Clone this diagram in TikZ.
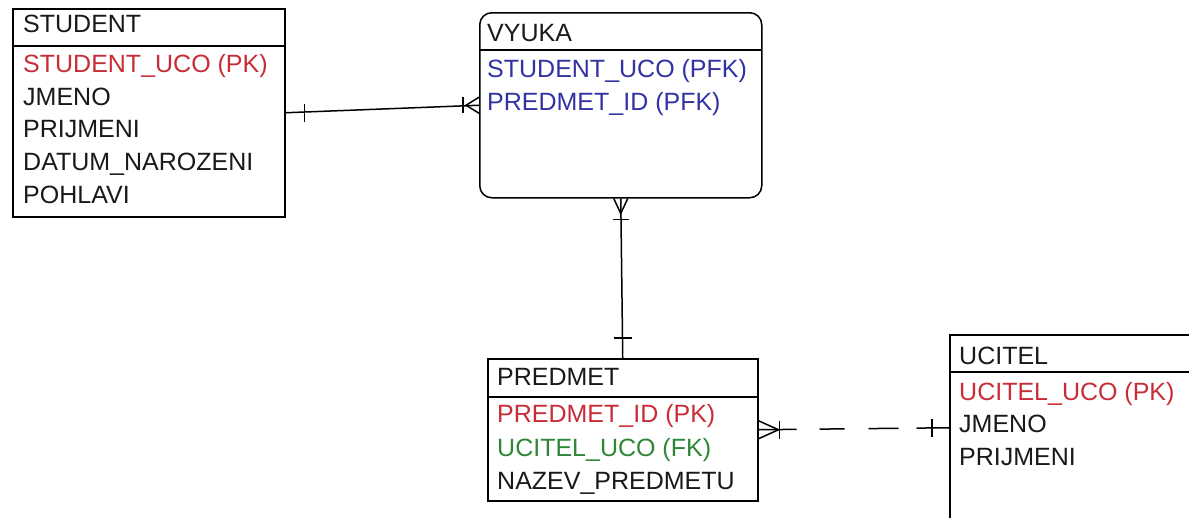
\documentclass[tikz,border=0pt]{standalone}
\usepackage{fontspec}
\setmainfont{Liberation Sans}
\definecolor{pkred}{RGB}{200,45,55}
\definecolor{pfkblue}{RGB}{50,50,165}
\definecolor{fkgreen}{RGB}{45,135,55}
\definecolor{txt}{RGB}{25,25,25}
\begin{document}
\begin{tikzpicture}[x=1pt,y=-1pt,
  entity/.style={draw=black,line width=1.5pt,rectangle,inner sep=0pt,anchor=north west},
  fld/.style={anchor=base west,inner sep=0pt,text=txt,font=\fontsize{25}{29}\selectfont},
  conn/.style={line width=1.5pt,black},
  tickline/.style={line width=1.5pt,black}]
\useasboundingbox (0,0) rectangle (1189,517);
\clip (0,0) rectangle (1189,517);
% STUDENT
\node[entity,minimum width=272pt,minimum height=208pt] (student) at (12,8) {};
\draw[tickline] (12,46) -- (284,46);
\node[fld] (st0) at (23,32) {STUDENT};
\node[fld,text=pkred] (st1) at (23,72) {STUDENT\_UCO (PK)};
\node[fld] (st2) at (23,105) {JMENO};
\node[fld] (st3) at (23,137.5) {PRIJMENI};
\node[fld] (st4) at (23,170.5) {DATUM\_NAROZENI};
\node[fld] (st5) at (23,203) {POHLAVI};
% VYUKA
\node[entity,rounded corners=12pt,minimum width=282pt,minimum height=185pt] (vyuka) at (479,12) {};
\draw[tickline] (479,50) -- (761,50);
\node[fld] (vy0) at (487,41) {VYUKA};
\node[fld,text=pfkblue] (vy1) at (487,77.5) {STUDENT\_UCO (PFK)};
\node[fld,text=pfkblue] (vy2) at (487,110) {PREDMET\_ID (PFK)};
% PREDMET
\node[entity,minimum width=270pt,minimum height=142pt] (predmet) at (487,358) {};
\draw[tickline] (487,397) -- (757,397);
\node[fld] (pr0) at (497,385) {PREDMET};
\node[fld,text=pkred] (pr1) at (497,422) {PREDMET\_ID (PK)};
\node[fld,text=fkgreen] (pr2) at (497,456) {UCITEL\_UCO (FK)};
\node[fld] (pr3) at (497,489) {NAZEV\_PREDMETU};
% UCITEL
\node[entity,minimum width=260pt,minimum height=186pt] (ucitel) at (949,334) {};
\draw[tickline] (949,372) -- (1200,372);
\node[fld] (uc0) at (959,364) {UCITEL};
\node[fld,text=pkred] (uc1) at (959,400) {UCITEL\_UCO (PK)};
\node[fld] (uc2) at (959,432) {JMENO};
\node[fld] (uc3) at (959,465) {PRIJMENI};
% STUDENT - VYUKA
\draw[conn] (student.east) -- (vyuka.west);
\draw[tickline] ([xshift=19pt,yshift=-9pt]student.east) -- ([xshift=19pt,yshift=9pt]student.east);
\draw[tickline] ([xshift=-16pt,yshift=-8pt]vyuka.west) -- ([xshift=-16pt,yshift=8pt]vyuka.west);
\draw[tickline] ([yshift=-8pt]vyuka.west) -- ([xshift=-13pt]vyuka.west) -- ([yshift=8pt]vyuka.west);
% VYUKA - PREDMET
\draw[conn] (vyuka.south) -- (predmet.north);
\draw[tickline] ([xshift=-7pt]vyuka.south) -- ([yshift=-15pt]vyuka.south) -- ([xshift=7pt]vyuka.south);
\draw[tickline] ([xshift=-8pt,yshift=-21pt]vyuka.south) -- ([xshift=8pt,yshift=-21pt]vyuka.south);
\draw[tickline] ([xshift=-9pt,yshift=20pt]predmet.north) -- ([xshift=9pt,yshift=20pt]predmet.north);
% PREDMET - UCITEL
\draw[conn,dash pattern=on 38pt off 23pt on 25pt off 24pt on 30pt off 18pt on 60pt] (predmet.east) -- (ucitel.west);
\draw[tickline] ([yshift=-9pt]predmet.east) -- ([xshift=20pt]predmet.east) -- ([yshift=9pt]predmet.east);
\draw[tickline] ([xshift=21pt,yshift=-9pt]predmet.east) -- ([xshift=21pt,yshift=9pt]predmet.east);
\draw[tickline] ([xshift=-17pt,yshift=-9pt]ucitel.west) -- ([xshift=-17pt,yshift=9pt]ucitel.west);
\end{tikzpicture}
\end{document}
